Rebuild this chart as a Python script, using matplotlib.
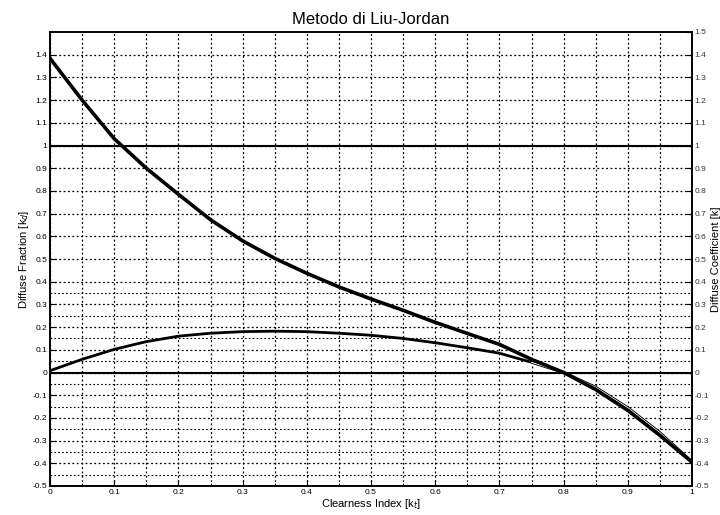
import numpy as np
import matplotlib
matplotlib.use("Agg")
import matplotlib.pyplot as plt
import matplotlib.ticker as ticker

plt.rcParams["font.family"] = ["Liberation Sans Narrow", "Liberation Sans", "DejaVu Sans"]

# values
kt = [0.0, 0.05, 0.1, 0.15, 0.2, 0.25, 0.3, 0.35, 0.4, 0.45, 0.5,
      0.55, 0.6, 0.65, 0.7, 0.75, 0.8, 0.85, 0.9, 0.95, 1.0]
kd = [1.384, 1.20, 1.03, 0.90, 0.785, 0.673, 0.58, 0.503, 0.437, 0.377, 0.324,
      0.274, 0.221, 0.172, 0.124, 0.058, 0.0, -0.075, -0.167, -0.277, -0.395]
kcoef = [0.008, 0.058, 0.102, 0.136, 0.160, 0.173, 0.180, 0.182, 0.180, 0.173, 0.164,
         0.150, 0.131, 0.109, 0.085, 0.045, 0.0, -0.065, -0.155, -0.265, -0.393]
ref_lines = [1.0, 0.0]

yticks = [-0.5, -0.4, -0.3, -0.2, -0.1, 0, 0.1, 0.2, 0.3, 0.4, 0.5, 0.6, 0.7,
          0.8, 0.9, 1.0, 1.1, 1.2, 1.3, 1.4]
ylabels = ["-0.5", "-0.4", "-0.3", "-0.2", "-0.1", "0", "0.1", "0.2", "0.3", "0.4",
           "0.5", "0.6", "0.7", "0.8", "0.9", "1", "1.1", "1.2", "1.3", "1.4"]
rticks = yticks + [1.5]
rlabels = ylabels + ["1.5"]
half_lines = [-0.45, -0.35, -0.25, -0.15, -0.05, 0.05, 0.15, 0.25, 0.35]
xticks = [0, 0.1, 0.2, 0.3, 0.4, 0.5, 0.6, 0.7, 0.8, 0.9, 1.0]
xlabels = ["0", "0.1", "0.2", "0.3", "0.4", "0.5", "0.6", "0.7", "0.8", "0.9", "1"]

fig = plt.figure(figsize=(7.2, 5.15), dpi=100)
ax = fig.add_axes([50/720, 1-486/515, 642/720, 454/515])

ax.set_xlim(0, 1)
ax.set_ylim(-0.5, 1.5)

# grid
ax.xaxis.set_minor_locator(ticker.MultipleLocator(0.05))
ax.grid(True, which="both", axis="x", color="black", linestyle=(0, (1.5, 2)), linewidth=0.9)
ax.grid(True, which="major", axis="y", color="black", linestyle=(0, (1.5, 2)), linewidth=0.9)
for h in half_lines:
    ax.axhline(h, color="black", linestyle=(0, (1.5, 2)), linewidth=0.8)

for r in ref_lines:
    ax.axhline(r, color="black", linewidth=1.5)

ax.plot(kt, kcoef, color="black", linewidth=2.0)
ax.plot(kt[15:], kcoef[15:], color="white", linewidth=0.7)
ax.plot(kt, kd, color="black", linewidth=2.6)

ax.set_xticks(xticks)
ax.set_xticklabels(xlabels, fontsize=6)
ax.set_yticks(yticks)
ax.set_yticklabels(ylabels, fontsize=6)
ax.tick_params(direction="in", length=4, which="major", top=False, pad=2)
ax.tick_params(direction="in", length=2, which="minor")

ax2 = ax.twinx()
ax2.set_ylim(-0.5, 1.5)
ax2.set_yticks(rticks)
ax2.set_yticklabels(rlabels, fontsize=6, color="#333333")
ax2.tick_params(direction="in", length=4, pad=2)

for a in (ax, ax2):
    for s in a.spines.values():
        s.set_linewidth(1.2)

ax.set_xlabel("Clearness Index [k$_t$]", fontsize=8, labelpad=1)
ax.set_ylabel("Diffuse Fraction [k$_d$]", fontsize=8, labelpad=1)
ax2.set_ylabel("Diffuse Coefficient [k]", fontsize=8, labelpad=1)
ax.set_title("Metodo di Liu-Jordan", fontsize=12, pad=6)

fig.savefig("out.png", dpi=100)
